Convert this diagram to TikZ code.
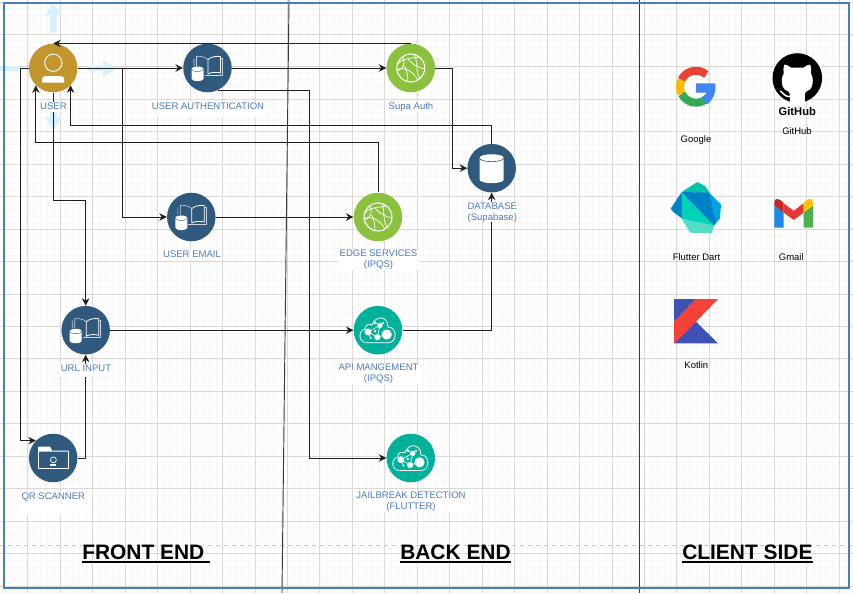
\documentclass[tikz,border=0pt]{standalone}
\usepackage{fontspec}
\setmainfont{Liberation Sans}
\usetikzlibrary{arrows.meta}
\definecolor{frameblue}{HTML}{4A7EBB}
\definecolor{labblue}{HTML}{4A78C0}
\definecolor{navy}{HTML}{30597E}
\definecolor{gold}{HTML}{C2952D}
\definecolor{leaf}{HTML}{8CC13F}
\definecolor{sea}{HTML}{00B19A}
\definecolor{hover}{HTML}{D6F0FD}
\newcommand{\ulhead}[1]{\setbox0=\hbox{#1}\rlap{\raisebox{-2.6pt}{\rule{\wd0}{1.3pt}}}\box0}
\newcommand{\bookicon}[1]{\begin{scope}[shift={(#1)}]
  \draw[iconline,line width=.45pt,white!75!navy] (0.5,-8.5) .. controls (-3,-11.5) and (-8,-12) .. (-11,-11.5) -- (-11,-2) (-13.5,-9.5) -- (-13.5,-2);
  \draw[iconline,line width=.6pt] (0.5,-8.5) .. controls (4,-11.5) and (9,-12) .. (13,-11.5) -- (13,5) .. controls (8,4) and (4,4) .. (0.5,6) -- cycle;
  \draw[iconline,line width=.45pt,white!75!navy] (13,-9.5) -- (14.7,-9.5) -- (14.7,7) -- (-3,7);
  \fill[white] (-16,0.8) -- (-16,10.8) arc[start angle=180,end angle=360,x radius=4.5pt,y radius=1.7pt] -- (-4,0.8) arc[start angle=0,end angle=180,x radius=4.5pt,y radius=1.7pt] -- cycle;
  \draw[navy,line width=.3pt] (-16,1.2) arc[start angle=180,end angle=360,x radius=4.5pt,y radius=1.7pt];
\end{scope}}
\newcommand{\globeicon}[1]{\begin{scope}[shift={(#1)}]
  \draw[iconline,line width=.8pt] (0,0) circle[radius=10.5pt];
  \draw[iconline,line width=.55pt] (-13,-4) .. controls (-8,-10) and (-2,-9) .. (8,-11)
   (-8,-11) .. controls (-5,-5) and (-7,1) .. (-13.5,3)
   (-13,1) .. controls (-6,-1) and (2,3) .. (7,12)
   (-3,-9) .. controls (1,-4) and (8,0) .. (14,1)
   (4,-13) .. controls (7,-5) and (5,5) .. (9,10)
   (-6,-2) .. controls (-4,3) and (-3,8) .. (-3,13);
\end{scope}}
\newcommand{\cloudicon}[1]{\begin{scope}[shift={(#1)}]
  \draw[iconline,line width=.6pt] (-11,12.5) .. controls (-20,12.5) and (-20,0) .. (-13,-1) .. controls (-14,-5) and (-8,-7) .. (-6,-5) .. controls (-3,-15) and (10,-15) .. (10,-3) .. controls (19,-4) and (20,12.5) .. (10,12.5) -- cycle;
  \fill[white] (-10,1.7) circle[radius=2.6pt] (8.7,4.3) circle[radius=3.8pt] (-0.7,7) circle[radius=2.3pt] (2,-4.7) circle[radius=2pt] (-3,-7.3) circle[radius=1.2pt] (-7.3,7.7) circle[radius=.8pt] (5.3,-7.3) circle[radius=.8pt] (-3,1) circle[radius=1pt];
  \draw[iconline,line width=.5pt] (-10,1.7) -- (-0.7,7) -- (2,-4.7) -- (-3,-7.3) (2,-4.7) -- (-10,1.7) (-0.7,7) -- (8.7,4.3) (-7.3,7.7) -- (-10,1.7) (2,-4.7) -- (5.3,-7.3);
\end{scope}}
\tikzset{
  iconline/.style={draw=white,fill=none,line join=round},
  gridminor/.style={draw=black!3,line width=.6pt},
  gridmajor/.style={draw=black!15,line width=.75pt},
  circ/.style={circle,inner sep=0pt,minimum size=36.4pt},
  link/.style={draw=black!88,line width=.7pt,-{Stealth[length=5.6pt,width=5.6pt]}},
  lab/.style={fill=white,text=labblue,font=\fontsize{7.15}{8.3}\selectfont,inner xsep=1pt,inner ysep=0pt,anchor=north,align=center},
  one/.style={text height=5.4pt,text depth=#1},
  captext/.style={text=black,font=\fontsize{7.1}{8.3}\selectfont,inner sep=0pt},
  headtext/.style={text=black,font=\fontsize{15.7}{18}\selectfont\bfseries,inner sep=0pt,anchor=west},
  divider/.style={draw=black!78,line width=.7pt},
  hoverarrow/.style={fill=hover,draw=none},
}
\begin{document}
\begin{tikzpicture}[x=0.75pt,y=-0.75pt]
\useasboundingbox (0,0) rectangle (853,593);
\fill[white] (0,0) rectangle (853,593);
% grid
\foreach \k in {-1,...,128} {\draw[gridminor] ({27.9+6.49*\k},0) -- ({27.9+6.49*\k},593);}
\foreach \k in {0,...,91} {\draw[gridminor] (0,{2+6.49*\k}) -- (853,{2+6.49*\k});}
\foreach \k in {0,...,25} {\draw[gridmajor] ({27.9+32.45*\k},0) -- ({27.9+32.45*\k},593);}
\foreach \k in {0,...,18} {\draw[gridmajor] (0,{2+32.45*\k}) -- (853,{2+32.45*\k});}
% dashed band
\coordinate (dl) at (0,545); \coordinate (dr) at (853,545);
\draw[draw=black!22,line width=.75pt,dashed] (dl) -- (dr);
% hover arrows
\fill[hoverarrow] (50,32.7) -- (50,15) -- (45,15) -- (53.3,3) -- (62,15) -- (56.7,15) -- (56.7,32.7) -- cycle;
\fill[hoverarrow] (50,108) -- (50,117) -- (45,117) -- (53.3,131) -- (62,117) -- (56.7,117) -- (56.7,108) -- cycle;
\fill[hoverarrow] (87,65.7) -- (103,65.7) -- (103,60) -- (116.7,68.4) -- (103,77) -- (103,71) -- (87,71) -- cycle;
\fill[hoverarrow] (0,66) rectangle (19,71);
% nodes
\node[circ,fill=gold] (user) at (53.2,68) {};
\node[circ,fill=navy] (auth) at (207.5,68) {};
\node[circ,fill=leaf] (supa) at (410.8,68) {};
\node[circ,fill=navy] (db) at (491.7,168.2) {};
\node[circ,fill=navy] (email) at (191.3,217) {};
\node[circ,fill=leaf] (edge) at (378,217) {};
\node[circ,fill=navy] (url) at (85.7,330.2) {};
\node[circ,fill=sea] (api) at (378,330.2) {};
\node[circ,fill=navy] (qr) at (53.2,458) {};
\node[circ,fill=sea] (jail) at (410.8,458) {};
% connectors
\draw[link] (user.east) -- (auth.west);
\draw[link] (auth.east) -- (supa.west);
\draw[link] (user.east) -- ++(45.2,0) |- (email.west);
\draw[link] (email.east) -- (edge.west);
\draw[link] (user.south) -- ++(0,107.7) -| (url.north);
\draw[link] (user.west) -- ++(-7.8,0) |- (qr.135);
\draw[link] (qr.east) -| (url.south);
\draw[link] (url.east) -- (api.west);
\draw[link] (api.east) -| (db.south);
\draw[link] (supa.east) -- ++(16.7,0) |- (db.west);
\draw[link] (auth.-65) -- ++(91.5,0) |- (jail.west);
\draw[link] (supa.north) -- (user.north);
\draw[link] (db.north) -- ++(0,-18.7) -| (user.-45);
\draw[link] (edge.north) -- ++(0,-50) -| (user.225);
% icons
\begin{scope}[shift={(user)}]
  \draw[white,line width=.75pt] (0.1,-5.3) circle[radius=6.5pt];
  \fill[white] (-11.2,14.7) -- (-11.2,11) .. controls (-11.2,9) and (-9,8) .. (-7,8) -- (7,8) .. controls (9,8) and (11,9) .. (11,11) -- (11,14.7) -- cycle;
\end{scope}
\bookicon{auth}
\bookicon{email}
\bookicon{url}
\globeicon{supa}
\globeicon{edge}
\cloudicon{api}
\cloudicon{jail}
\begin{scope}[shift={(db)}]
  \fill[white] (-12,-10.5) -- (-12,11.5) arc[start angle=180,end angle=360,x radius=9pt,y radius=2.6pt] -- (12,-10.5) arc[start angle=0,end angle=180,x radius=9pt,y radius=2.6pt] -- cycle;
  \draw[navy,line width=.45pt] (-12,-10) arc[start angle=180,end angle=360,x radius=9pt,y radius=2.6pt];
\end{scope}
\begin{scope}[shift={(qr)}]
  \fill[white] (-15,-11.3) -- (-3,-11.3) -- (-1,-7.3) -- (15,-7.3) -- (15,-6.5) -- (-15,-6.5) -- cycle;
  \draw[iconline,line width=.6pt] (-15,-8) -- (-15,10.8) -- (15,10.8) -- (15,-7);
  \draw[iconline,line width=.5pt] (0.2,1.8) circle[radius=2.2pt];
  \fill[white] (-2.8,6) rectangle (3,7.8);
\end{scope}
% labels
\node[lab,one=2pt] (luser) at (53.4,102) {USER};
\node[lab,one=6pt] (lauth) at (208,102) {USER AUTHENTICATION};
\node[lab,one=2pt] (lsupa) at (411,102.5) {Supa Auth};
\node[lab] (ldb) at (492.3,202.2) {DATABASE\\(Supabase)};
\node[lab,one=2pt] (lemail) at (192,250) {USER EMAIL};
\node[lab] (ledge) at (378.5,250) {EDGE SERVICES\\(IPQS)};
\node[lab,one=4pt] (lurl) at (86,364) {URL INPUT};
\node[lab] (lapi) at (378.5,364) {API MANGEMENT\\(IPQS)};
\node[lab,one=12pt] (lqr) at (53.3,492) {QR SCANNER};
\node[lab] (ljail) at (411,492) {JAILBREAK DETECTION\\(FLUTTER)};
% Google
\begin{scope}[shift={(696,86.7)}]
  \draw[line width=6pt,color={rgb,255:red,234;green,67;blue,53}] (50:12pt) arc[start angle=50,end angle=155,radius=12pt];
  \draw[line width=6pt,color={rgb,255:red,251;green,188;blue,5}] (155:12pt) arc[start angle=155,end angle=207,radius=12pt];
  \draw[line width=6pt,color={rgb,255:red,52;green,168;blue,83}] (207:12pt) arc[start angle=207,end angle=318,radius=12pt];
\end{scope}
\fill[color={rgb,255:red,66;green,133;blue,244}] (696,83.3) -- (715.2,83.3) .. controls (716.5,92) and (713,100) .. (707.5,104) -- (701.5,99) .. controls (704,97) and (706,95) .. (706.5,92.5) -- (696,92.5) -- cycle;
\node[captext] (lgoogle) at (696,140) {Google};
% GitHub
\fill[black] (797.3,78) circle[radius=18.6pt];
\begin{scope}[shift={(797.3,78)}]
  \fill[white] (-7.5,25.5) -- (-7.5,16) .. controls (-8,13.5) and (-9,13.5) .. (-10,13) .. controls (-15,11.5) and (-15.5,6) .. (-15.5,2) .. controls (-15.5,-1) and (-14.5,-3) .. (-13.5,-4.5) .. controls (-14.2,-7) and (-14,-10.5) .. (-13,-13.5) .. controls (-11,-13.5) and (-8.5,-12) .. (-6.5,-10.5) -- (6.5,-10.5) .. controls (8.5,-12) and (11,-13.5) .. (13,-13.5) .. controls (14,-10.5) and (14.2,-7) .. (13.5,-4.5) .. controls (14.5,-3) and (15.5,-1) .. (15.5,2) .. controls (15.5,6) and (15,11.5) .. (10,13) .. controls (9,13.5) and (8,13.5) .. (7.5,16) -- (7.5,25.5) -- cycle;
  \draw[white,line width=1.1pt] (-7.5,18.5) .. controls (-12,19) and (-13,16) .. (-17,13);
\end{scope}
\node[text=black,font=\fontsize{8.4}{10}\selectfont\bfseries,inner sep=0pt] (ghlogo) at (797.3,111.3) {GitHub};
\node[captext] (lgithub) at (797,131.5) {GitHub};
% Dart
\begin{scope}[shift={(665,176)},x=0.25pt,y=-0.25pt]
  \fill[color={rgb,255:red,0;green,196;blue,170}] (50,48) -- (97,18) -- (120,30) -- (135,52) -- cycle;
  \fill[color={rgb,255:red,85;green,221;blue,202}] (50,128) -- (75,170) -- (140,172) -- (148,146) -- cycle;
  \fill[color={rgb,255:red,0;green,164;blue,228}] (133,50) -- (168,85) -- (165,127) -- (148,148) -- cycle;
  \fill[color={rgb,255:red,0;green,129;blue,198}] (50,48) -- (17,98) -- (25,108) -- (52,128) -- cycle;
  \fill[color={rgb,255:red,0;green,210;blue,184}] (50,48) -- (50,128) -- (148,148) -- cycle;
  \fill[color={rgb,255:red,0;green,129;blue,198}] (50,48) -- (133,50) -- (152,140) -- (147,148) -- cycle;
\end{scope}
\node[captext] (ldart) at (696.5,257) {Flutter Dart};
% Gmail
\begin{scope}[shift={(640,170)},x=0.25pt,y=-0.25pt]
  \fill[color={rgb,255:red,30;green,136;blue,229}] (403,106) -- (431,128) -- (431,173) -- (403,173) -- cycle;
  \fill[color={rgb,255:red,76;green,175;blue,80}] (491,128) -- (519,106) -- (519,173) -- (491,173) -- cycle;
  \fill[color={rgb,255:red,229;green,57;blue,53}] (431,100) -- (461,122) -- (491,100) -- (491,128) -- (461,150) -- (431,128) -- cycle;
  \fill[color={rgb,255:red,198;green,40;blue,40}] (403,106) -- (403,95) .. controls (404,85) and (418,82) .. (431,100) -- (431,128) -- cycle;
  \fill[color={rgb,255:red,255;green,193;blue,7}] (519,106) -- (519,95) .. controls (518,85) and (504,82) .. (491,100) -- (491,128) -- cycle;
\end{scope}
\node[captext] (lgmail) at (791.3,257) {Gmail};
% Kotlin
\begin{scope}[shift={(640,170)},x=0.25pt,y=-0.25pt]
  \fill[color={rgb,255:red,63;green,81;blue,181}] (102,387) -- (168,387) -- (102,455) -- cycle;
  \fill[color={rgb,255:red,63;green,81;blue,181}] (168,455) -- (234,520) -- (102,520) -- cycle;
  \fill[color={rgb,255:red,244;green,67;blue,54}] (168,387) -- (234,387) -- (168,455) -- (102,520) -- (102,455) -- cycle;
\end{scope}
\node[captext] (lkotlin) at (696.3,365) {Kotlin};
% dividers and frame
\coordinate (d1a) at (289,0); \coordinate (d1b) at (282,593);
\coordinate (d2a) at (639,0); \coordinate (d2b) at (639,593);
\draw[divider] (d1a) -- (d1b);
\draw[divider] (d2a) -- (d2b);
\draw[draw=frameblue,line width=1.6pt] (4.2,3) rectangle (849.3,587.8);
% headings
\node[headtext] (hfront) at (82,554) {\ulhead{FRONT END\ }};
\node[headtext] (hback) at (400,554) {\ulhead{BACK END}};
\node[headtext] (hclient) at (682,554) {\ulhead{CLIENT SIDE}};
\end{tikzpicture}
\end{document}
